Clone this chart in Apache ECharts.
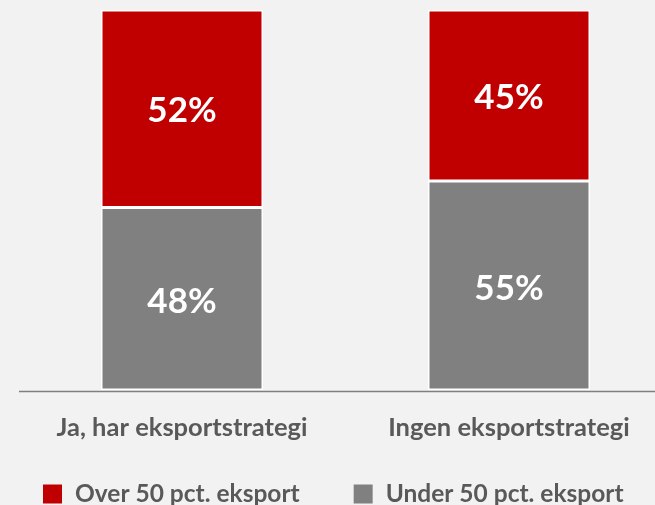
<!DOCTYPE html>
<html>
<head>
<meta charset="utf-8">
<script src="https://cdn.jsdelivr.net/npm/echarts@6/dist/echarts.min.js"></script>
<style>
html,body{margin:0;padding:0;background:#f2f2f2;}
#c{width:655px;height:505px;}
</style>
</head>
<body>
<div id="c"></div>
<script>
var categories = ['Ja, har eksportstrategi', 'Ingen eksportstrategi'];
var under50 = [48, 55];
var over50 = [52, 45];
var seriesNames = ['Over 50 pct. eksport', 'Under 50 pct. eksport'];

var FONT = 'Lato';
var chart = echarts.init(document.getElementById('c'));
chart.setOption({
  backgroundColor: '#f2f2f2',
  animation: false,
  textStyle: { fontFamily: FONT },
  grid: { left: 182, right: 146, top: 10, bottom: 115 },
  legend: {
    data: seriesNames,
    left: 43, top: 480, padding: 0,
    itemWidth: 19, itemHeight: 19, itemGap: 54,
    icon: 'rect',
    itemStyle: { borderWidth: 0 },
    textStyle: { color: '#595959', fontSize: 24.5, lineHeight: 28, fontWeight: 'bold', fontFamily: FONT, padding: [0,0,0,8] }
  },
  xAxis: {
    type: 'category', data: categories, boundaryGap: false,
    axisLine: { show: false }, axisTick: { show: false },
    axisLabel: { interval: 0, hideOverlap: false, color: '#595959', fontSize: 25.5, fontWeight: 'bold', fontFamily: FONT, margin: 24.5 }
  },
  yAxis: { type: 'value', min: 0, max: 100, show: false },
  series: [
    {
      name: seriesNames[1], type: 'bar', stack: 's', data: under50,
      clip: false, barWidth: 162,
      itemStyle: { color: '#808080', borderColor: '#ffffff', borderWidth: 1.5 },
      label: { show: true, position: 'inside', offset: [0, 3], formatter: '{c}%', color: '#ffffff', fontSize: 35, fontWeight: 'bold', fontFamily: FONT }
    },
    {
      name: seriesNames[0], type: 'bar', stack: 's', data: over50,
      clip: false, barWidth: 162,
      itemStyle: { color: '#C00000', borderColor: '#ffffff', borderWidth: 1.5 },
      label: { show: true, position: 'inside', offset: [0, 2], formatter: '{c}%', color: '#ffffff', fontSize: 35, fontWeight: 'bold', fontFamily: FONT }
    }
  ],
  graphic: [{
    type: 'line', shape: { x1: 19, y1: 391.5, x2: 655, y2: 391.5 },
    style: { stroke: '#7f7f7f', lineWidth: 1.5 }, silent: true
  }]
});
</script>
</body>
</html>
